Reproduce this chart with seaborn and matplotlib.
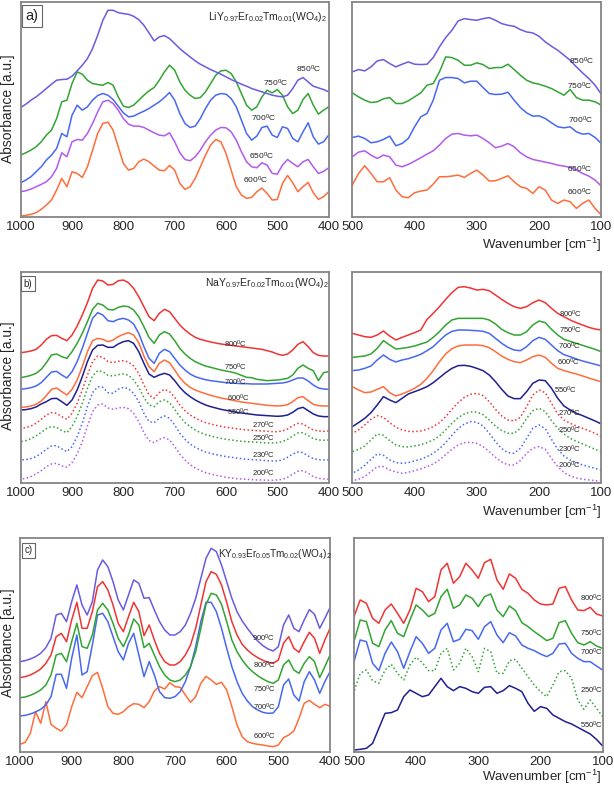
import matplotlib
matplotlib.use("Agg")
import matplotlib.pyplot as plt
import seaborn as sns

# wavenumber grids (cm-1) the spectra were read on
wn_mid = list(range(1000, 399, -10))
wn_low = list(range(500, 99, -10))

# ---------- a) LiY0.97Er0.02Tm0.01(WO4)2 ----------
a_mid_600 = [2, 4, 7, 12, 22, 35, 50, 80, 115, 90, 135, 130, 118, 150, 200, 250, 280, 284, 260, 210,
             160, 140, 145, 165, 173, 165, 152, 140, 138, 154, 140, 100, 82, 90, 115, 150, 185, 215, 232, 225,
             190, 140, 90, 65, 55, 58, 75, 86, 70, 50, 52, 100, 124, 102, 75, 90, 103, 72, 52, 60, 75]
a_mid_650 = [75, 78, 83, 90, 97, 105, 120, 145, 192, 180, 225, 232, 230, 250, 280, 315, 345, 350, 340, 320,
             295, 278, 272, 272, 268, 260, 252, 245, 243, 252, 225, 192, 172, 168, 180, 200, 225, 245, 260, 268,
             267, 255, 230, 195, 165, 150, 147, 162, 155, 130, 128, 155, 172, 160, 150, 165, 172, 150, 130, 136, 147]
a_mid_700 = [102, 110, 120, 135, 150, 170, 185, 205, 250, 240, 305, 335, 320, 330, 350, 364, 370, 365, 352, 332,
             312, 300, 302, 310, 317, 325, 335, 345, 358, 373, 350, 310, 280, 268, 272, 295, 325, 350, 365, 370,
             368, 355, 330, 290, 250, 230, 242, 268, 272, 245, 238, 270, 265, 235, 225, 255, 282, 240, 218, 225, 245]
a_mid_750 = [185, 192, 200, 210, 225, 245, 260, 295, 345, 350, 400, 435, 428, 410, 400, 397, 395, 403, 395, 360,
             332, 328, 335, 350, 365, 378, 388, 410, 435, 455, 440, 405, 380, 365, 355, 358, 375, 400, 425, 438,
             440, 430, 405, 370, 335, 320, 330, 360, 380, 372, 382, 365, 330, 310, 320, 352, 370, 335, 308, 320, 330]
a_mid_850 = [328, 338, 350, 360, 372, 385, 398, 410, 412, 413, 422, 438, 455, 475, 505, 545, 590, 620, 620, 613,
             610, 608, 602, 592, 575, 552, 528, 540, 544, 535, 520, 505, 492, 480, 468, 458, 450, 442, 435, 428,
             420, 412, 405, 398, 392, 385, 380, 375, 370, 365, 362, 360, 365, 385, 410, 418, 405, 392, 387, 382, 375]

a_low_600 = [95, 130, 153, 130, 105, 105, 117, 80, 60, 57, 72, 77, 80, 98, 120, 120, 122, 125, 118, 130,
             140, 125, 107, 108, 115, 123, 105, 90, 85, 70, 90, 80, 50, 40, 50, 45, 25, 40, 50, 25, 5]
a_low_650 = [180, 194, 198, 185, 175, 185, 180, 155, 150, 157, 167, 177, 188, 198, 215, 235, 248, 250, 245, 243,
             245, 235, 222, 207, 212, 220, 210, 192, 180, 172, 168, 164, 160, 155, 152, 148, 140, 130, 122, 110, 92]
a_low_700 = [238, 242, 235, 222, 225, 232, 242, 213, 220, 235, 270, 300, 310, 350, 410, 418, 418, 415, 402, 407,
             407, 388, 370, 367, 368, 374, 350, 328, 312, 302, 303, 295, 282, 270, 267, 270, 255, 248, 250, 238, 220]
a_low_750 = [372, 360, 350, 343, 345, 354, 358, 340, 340, 348, 360, 372, 395, 400, 435, 480, 478, 470, 455, 455,
             462, 457, 445, 448, 448, 458, 442, 425, 410, 402, 398, 392, 385, 375, 365, 382, 358, 350, 350, 345, 335]
a_low_850 = [435, 442, 438, 450, 468, 472, 460, 450, 458, 465, 458, 457, 458, 478, 510, 538, 560, 588, 595, 592,
             590, 595, 598, 590, 580, 575, 572, 562, 555, 552, 542, 525, 512, 500, 485, 470, 450, 432, 415, 395, 368]

# ---------- b) NaY0.97Er0.02Tm0.01(WO4)2 ----------
b_mid_800 = [392, 394, 397, 402, 415, 432, 443, 444, 435, 428, 445, 472, 505, 542, 585, 610, 607, 595, 597, 608,
             610, 602, 585, 560, 530, 500, 488, 510, 522, 515, 495, 475, 460, 448, 438, 432, 428, 424, 421, 418,
             416, 414, 412, 410, 408, 406, 404, 402, 398, 394, 388, 384, 388, 400, 417, 425, 410, 392, 384, 382, 382]
b_mid_750 = [317, 320, 324, 330, 342, 362, 385, 388, 380, 375, 395, 420, 450, 485, 522, 540, 535, 522, 520, 528,
             532, 530, 520, 500, 470, 438, 420, 445, 455, 448, 428, 405, 388, 375, 365, 358, 352, 348, 344, 340,
             337, 334, 330, 324, 318, 317, 312, 310, 308, 309, 310, 312, 315, 325, 345, 355, 345, 338, 308, 332, 335]
b_mid_700 = [282, 284, 287, 292, 302, 318, 334, 336, 325, 316, 335, 365, 405, 450, 495, 512, 505, 488, 485, 492,
             495, 490, 478, 450, 410, 375, 360, 390, 402, 395, 375, 355, 340, 328, 320, 315, 311, 308, 306, 304,
             302, 301, 300, 299, 299, 298, 298, 298, 298, 299, 300, 301, 304, 310, 316, 316, 307, 295, 286, 283, 282]
b_mid_600 = [228, 229, 232, 237, 247, 263, 282, 286, 275, 265, 282, 310, 350, 395, 428, 435, 432, 425, 430, 440,
             447, 452, 445, 422, 382, 350, 335, 360, 370, 362, 340, 317, 300, 288, 280, 274, 269, 264, 260, 256,
             253, 250, 247, 244, 242, 240, 238, 236, 234, 233, 232, 233, 236, 245, 257, 260, 248, 237, 233, 232, 232]
b_mid_550 = [220, 221, 224, 229, 238, 245, 254, 255, 245, 234, 250, 280, 320, 365, 400, 414, 415, 408, 408, 418,
             425, 428, 420, 395, 360, 328, 318, 325, 330, 325, 308, 288, 272, 260, 250, 242, 235, 230, 226, 222,
             219, 216, 213, 211, 209, 207, 205, 204, 203, 202, 201, 202, 205, 213, 224, 228, 218, 208, 202, 200, 200]
b_mid_270 = [165, 167, 172, 180, 192, 205, 212, 210, 200, 192, 210, 240, 280, 325, 365, 382, 378, 365, 362, 366,
             368, 364, 352, 330, 295, 265, 255, 272, 282, 275, 258, 235, 218, 205, 196, 188, 182, 178, 174, 171,
             168, 166, 164, 162, 160, 159, 158, 157, 156, 155, 155, 157, 163, 173, 180, 178, 168, 160, 157, 156, 157]
b_mid_250 = [125, 128, 134, 142, 153, 164, 170, 168, 158, 152, 170, 200, 240, 285, 322, 338, 335, 324, 322, 326,
             328, 324, 310, 288, 258, 235, 230, 245, 250, 242, 222, 200, 182, 170, 160, 152, 146, 142, 138, 135,
             132, 130, 128, 126, 125, 124, 123, 122, 121, 121, 122, 125, 132, 142, 151, 152, 143, 134, 130, 129, 130]
b_mid_230 = [70, 71, 74, 80, 90, 102, 112, 113, 103, 95, 110, 140, 180, 230, 272, 290, 288, 272, 270, 282,
             288, 284, 270, 245, 210, 185, 182, 195, 202, 195, 175, 150, 132, 118, 108, 100, 94, 90, 86, 83,
             80, 78, 76, 74, 72, 71, 70, 69, 68, 67, 67, 70, 78, 88, 94, 92, 82, 74, 71, 70, 70]
b_mid_200 = [12, 15, 20, 28, 38, 50, 58, 60, 52, 48, 62, 88, 125, 172, 215, 235, 238, 226, 222, 226,
             228, 224, 210, 185, 152, 128, 122, 132, 137, 130, 110, 88, 70, 56, 46, 38, 32, 28, 24, 21,
             18, 16, 14, 13, 12, 11, 10, 10, 9, 9, 10, 12, 18, 28, 36, 38, 30, 20, 15, 13, 12]

b_low_800 = [450, 445, 440, 438, 445, 457, 442, 430, 438, 445, 452, 460, 492, 510, 530, 552, 572, 588, 590, 586,
             580, 582, 578, 565, 552, 540, 530, 525, 530, 542, 550, 542, 525, 510, 500, 490, 482, 475, 468, 463, 460]
b_low_750 = [378, 380, 382, 388, 405, 428, 415, 403, 405, 408, 412, 418, 424, 438, 455, 475, 490, 495, 495, 495,
             495, 495, 490, 478, 462, 452, 445, 445, 455, 475, 487, 482, 462, 445, 432, 426, 420, 414, 408, 402, 395]
b_low_700 = [338, 340, 345, 352, 370, 385, 372, 364, 370, 374, 380, 387, 398, 410, 428, 445, 456, 460, 460, 459,
             458, 456, 450, 435, 420, 408, 400, 398, 410, 428, 438, 432, 415, 398, 386, 380, 373, 367, 362, 357, 352]
b_low_600 = [290, 280, 272, 274, 282, 290, 272, 262, 268, 276, 285, 297, 315, 338, 365, 388, 404, 412, 415, 415,
             415, 413, 407, 395, 382, 372, 365, 362, 370, 380, 385, 378, 360, 345, 338, 333, 328, 322, 316, 310, 305]
b_low_550 = [170, 182, 195, 212, 235, 260, 250, 242, 255, 268, 275, 282, 290, 302, 317, 332, 345, 353, 354, 351,
             345, 338, 325, 305, 282, 262, 254, 254, 275, 300, 310, 308, 285, 255, 232, 220, 210, 203, 195, 187, 178]
b_low_270 = [150, 160, 175, 192, 203, 198, 182, 168, 160, 156, 155, 157, 162, 170, 182, 200, 222, 242, 258, 267,
             270, 263, 245, 222, 202, 190, 187, 198, 230, 265, 280, 272, 240, 208, 190, 180, 172, 165, 158, 150, 140]
b_low_250 = [95, 102, 112, 130, 148, 144, 128, 115, 110, 109, 112, 116, 122, 130, 142, 160, 180, 197, 208, 214,
             214, 206, 190, 172, 158, 150, 150, 165, 195, 218, 225, 215, 188, 165, 148, 135, 126, 118, 110, 102, 95]
b_low_230 = [30, 40, 54, 72, 88, 84, 70, 62, 60, 62, 67, 72, 80, 90, 104, 122, 144, 164, 178, 185,
             183, 172, 150, 125, 104, 92, 90, 105, 135, 165, 175, 164, 132, 102, 82, 70, 62, 55, 50, 45, 40]
b_low_200 = [8, 12, 20, 35, 50, 50, 40, 34, 30, 33, 38, 43, 50, 58, 70, 86, 102, 115, 122, 123,
             120, 110, 95, 78, 64, 55, 55, 68, 90, 105, 110, 102, 75, 50, 32, 22, 16, 12, 10, 8, 5]

# ---------- c) KY0.93Er0.05Tm0.02(WO4)2 ----------
c_mid_900 = [270, 273, 278, 285, 295, 312, 340, 410, 415, 390, 450, 500, 440, 410, 450, 545, 575, 555, 510, 455,
             425, 470, 515, 505, 460, 462, 425, 390, 365, 350, 350, 360, 380, 415, 460, 520, 580, 610, 600, 560,
             510, 460, 420, 392, 370, 350, 332, 318, 308, 302, 315, 380, 410, 370, 360, 395, 426, 412, 370, 400, 432]
c_mid_800 = [222, 225, 230, 238, 248, 265, 290, 345, 355, 330, 395, 448, 370, 370, 420, 495, 510, 485, 440, 385,
             360, 405, 448, 420, 348, 380, 335, 295, 270, 260, 260, 270, 290, 320, 370, 440, 510, 540, 532, 500,
             448, 390, 350, 322, 305, 292, 282, 274, 268, 265, 275, 325, 345, 310, 298, 330, 358, 340, 295, 335, 370]
c_mid_750 = [162, 164, 169, 176, 185, 200, 230, 290, 295, 270, 330, 385, 315, 310, 350, 425, 445, 425, 385, 340,
             315, 350, 398, 380, 312, 325, 290, 255, 230, 215, 210, 215, 230, 255, 300, 370, 442, 475, 470, 442,
             390, 335, 300, 275, 255, 240, 228, 218, 210, 205, 215, 260, 275, 245, 235, 265, 285, 270, 222, 255, 290]
c_mid_700 = [107, 109, 113, 119, 127, 140, 165, 232, 232, 190, 280, 350, 230, 240, 320, 410, 415, 390, 345, 300,
             275, 325, 355, 290, 225, 270, 230, 180, 162, 160, 165, 180, 210, 255, 315, 390, 448, 448, 420, 370,
             310, 255, 210, 175, 152, 135, 125, 118, 115, 116, 135, 200, 218, 170, 152, 210, 240, 215, 175, 210, 240]
c_mid_600 = [22, 28, 55, 120, 85, 150, 82, 70, 62, 80, 135, 178, 162, 195, 228, 238, 190, 135, 115, 112,
             120, 135, 144, 142, 132, 150, 182, 195, 188, 207, 195, 193, 170, 148, 165, 205, 226, 215, 202, 208,
             185, 135, 80, 45, 30, 25, 22, 20, 17, 15, 20, 42, 50, 62, 100, 145, 154, 142, 132, 142, 136]

c_low_800 = [405, 455, 445, 400, 385, 425, 443, 415, 385, 425, 490, 480, 450, 465, 545, 565, 505, 525, 565, 545,
             520, 567, 577, 515, 487, 533, 520, 487, 475, 455, 443, 440, 443, 490, 495, 455, 425, 423, 433, 413, 407]
c_low_750 = [330, 395, 390, 325, 315, 365, 393, 355, 345, 395, 440, 425, 405, 415, 465, 487, 430, 440, 470, 460,
             435, 465, 473, 425, 405, 437, 423, 387, 375, 360, 347, 333, 340, 387, 393, 355, 327, 320, 330, 317, 310]
c_low_700 = [270, 335, 330, 265, 243, 295, 329, 300, 250, 300, 345, 325, 295, 310, 365, 385, 330, 337, 367, 363,
             337, 375, 390, 350, 327, 357, 347, 320, 310, 303, 293, 285, 295, 323, 325, 295, 280, 270, 270, 257, 245]
c_low_250 = [180, 235, 245, 213, 205, 245, 262, 235, 215, 260, 283, 267, 243, 243, 295, 310, 245, 265, 310, 285,
             240, 310, 300, 235, 235, 273, 277, 250, 225, 200, 180, 165, 200, 240, 243, 220, 155, 127, 155, 130, 105]
c_low_550 = [5, 7, 10, 25, 70, 115, 117, 125, 165, 185, 175, 165, 170, 195, 220, 195, 183, 195, 190, 180,
             175, 193, 195, 175, 183, 198, 190, 180, 145, 121, 135, 130, 110, 100, 90, 83, 73, 63, 53, 37, 17]

formulas = [r"LiY$_{0.97}$Er$_{0.02}$Tm$_{0.01}$(WO$_4$)$_2$",
            r"NaY$_{0.97}$Er$_{0.02}$Tm$_{0.01}$(WO$_4$)$_2$",
            r"KY$_{0.93}$Er$_{0.05}$Tm$_{0.02}$(WO$_4$)$_2$"]
panel_tags = ["a)", "b)", "c)"]

ORANGE = "#ff6d3b"
PURPLE = "#b15af0"
BLUE = "#4868f2"
GREEN = "#32a432"
VIOLET = "#6a5be2"
RED = "#f03434"
NAVY = "#1f1f90"

sns.set_style("white")
plt.rcParams["font.family"] = ["Liberation Sans", "DejaVu Sans"]
plt.rcParams["mathtext.fontset"] = "custom"
plt.rcParams["mathtext.rm"] = "Liberation Sans"
plt.rcParams["mathtext.default"] = "regular"


def T(t):
    return t + r"$^0$C"


rows = [
    # a)
    dict(ylim=645,
         mid=[(a_mid_600, ORANGE, False), (a_mid_650, PURPLE, False), (a_mid_700, BLUE, False),
              (a_mid_750, GREEN, False), (a_mid_850, VIOLET, False)],
         low=[(a_low_600, ORANGE, False), (a_low_650, PURPLE, False), (a_low_700, BLUE, False),
              (a_low_750, GREEN, False), (a_low_850, VIOLET, False)],
         mid_lab=[("850", 440, 442), ("750", 503, 402), ("700", 527, 295), ("650", 531, 180), ("600", 542, 110)],
         low_lab=[("850", 132, 467), ("750", 135, 392), ("700", 133, 288), ("650", 135, 143), ("600", 135, 73)],
         box=[0.0337, 0.7250, 0.5016, 0.2725], rbox=[0.5738, 0.7250, 0.4055, 0.2725],
         form=(0.80, 0.93, 7.5), tag=(0.037, 0.935, 10.5), ylab=109, xlab=245, tfs=6),
    # b)
    dict(ylim=635,
         mid=[(b_mid_200, PURPLE, True), (b_mid_230, BLUE, True), (b_mid_250, GREEN, True), (b_mid_270, RED, True),
              (b_mid_550, NAVY, False), (b_mid_600, ORANGE, False), (b_mid_700, BLUE, False),
              (b_mid_750, GREEN, False), (b_mid_800, RED, False)],
         low=[(b_low_200, PURPLE, True), (b_low_230, BLUE, True), (b_low_250, GREEN, True), (b_low_270, RED, True),
              (b_low_550, NAVY, False), (b_low_600, ORANGE, False), (b_low_700, BLUE, False),
              (b_low_750, GREEN, False), (b_low_800, RED, False)],
         mid_lab=[("800", 582, 418), ("750", 582, 348), ("700", 582, 304), ("600", 576, 254), ("550", 576, 213),
                  ("270", 527, 173), ("250", 527, 135), ("230", 527, 85), ("200", 527, 30)],
         low_lab=[("800", 150, 507), ("750", 150, 458), ("700", 151, 410), ("600", 153, 362), ("550", 158, 278),
                  ("270", 151, 210), ("250", 151, 160), ("230", 151, 103), ("200", 151, 55)],
         box=[0.0337, 0.3867, 0.5016, 0.2685], rbox=[0.5738, 0.3867, 0.4055, 0.2685],
         form=(0.80, 0.945, 7.5), tag=(0.024, 0.944, 7), ylab=376, xlab=512, tfs=5.5),
    # c)
    dict(ylim=640,
         mid=[(c_mid_600, ORANGE, False), (c_mid_700, BLUE, False), (c_mid_750, GREEN, False),
              (c_mid_800, RED, False), (c_mid_900, VIOLET, False)],
         low=[(c_low_550, NAVY, False), (c_low_250, GREEN, True), (c_low_700, BLUE, False),
              (c_low_750, GREEN, False), (c_low_800, RED, False)],
         mid_lab=[("900", 529, 340), ("800", 527, 258), ("750", 527, 188), ("700", 527, 132), ("600", 527, 47)],
         low_lab=[("800", 117, 460), ("750", 117, 355), ("700", 117, 297), ("250", 117, 185), ("550", 117, 80)],
         box=[0.0326, 0.0461, 0.5049, 0.2708], rbox=[0.5765, 0.0461, 0.4050, 0.2708],
         form=(0.822, 0.926, 7.2), tag=(0.027, 0.943, 7), ylab=643, xlab=777, tfs=5.5),
]

fig = plt.figure(figsize=(6.14, 7.88), dpi=100)

for i, r in enumerate(rows):
    axl = fig.add_axes(r["box"])
    axr = fig.add_axes(r["rbox"])
    for ax, wn, curves, labs, xl, ticks in [
        (axl, wn_mid, r["mid"], r["mid_lab"], (1000, 400), [1000, 900, 800, 700, 600, 500, 400]),
        (axr, wn_low, r["low"], r["low_lab"], (500, 100), [500, 400, 300, 200, 100]),
    ]:
        for vals, col, dotted in curves:
            sns.lineplot(x=wn, y=vals, ax=ax, color=col, lw=1.1,
                         linestyle=(0, (1, 1.6)) if dotted else "-")
        for t, x, y in labs:
            ax.text(x, y, T(t), fontsize=r["tfs"], ha="center", va="center", color="#222222")
        ax.set_xlim(*xl)
        ax.set_ylim(0, r["ylim"])
        ax.set_xticks(ticks)
        ax.set_yticks([])
        ax.tick_params(axis="x", length=0, pad=3, labelsize=9.5)
        for s in ax.spines.values():
            s.set_color("#858585")
            s.set_linewidth(1.3)
    fx, fy, fs = r["form"]
    axl.text(fx, fy, formulas[i], transform=axl.transAxes, fontsize=fs, ha="center", va="center")
    tx, ty, tfs = r["tag"]
    axl.text(tx, ty, panel_tags[i], transform=axl.transAxes, fontsize=tfs, ha="center", va="center",
             bbox=dict(boxstyle="square,pad=0.25", fc="white", ec="#666666", lw=0.8))
    fig.text(8 / 614, 1 - r["ylab"] / 788, "Absorbance [a.u.]", rotation=90, fontsize=10,
             ha="center", va="center")
    fig.text(602 / 614, 1 - r["xlab"] / 788, r"Wavenumber [cm$^{-1}$]", fontsize=9.5,
             ha="right", va="center")

fig.savefig("out.png", dpi=100)
